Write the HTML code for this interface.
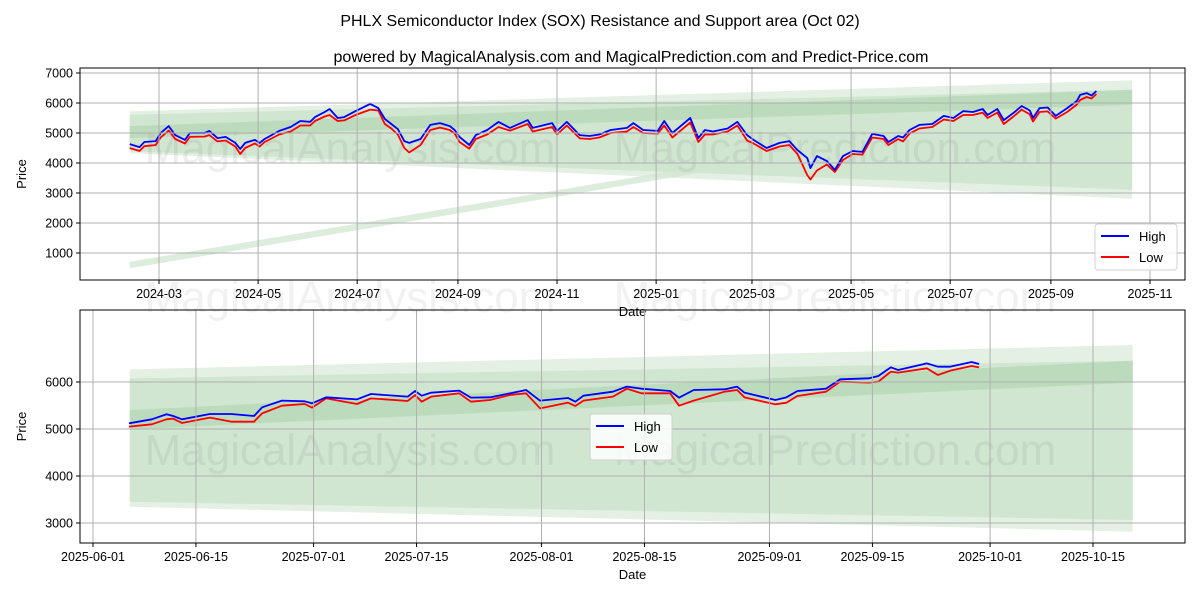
<!DOCTYPE html>
<html><head><meta charset="utf-8"><style>
body{margin:0;background:#fff;}
svg text{font-family:"Liberation Sans","DejaVu Sans",sans-serif;}
</style></head><body>
<svg id="c" width="1200" height="600" viewBox="0 0 1200 600" xmlns="http://www.w3.org/2000/svg">
<rect width="1200" height="600" fill="#fff"/>
<text x="350" y="312" font-size="44" fill="#888" fill-opacity="0.12" text-anchor="middle">MagicalAnalysis.com</text>
<text x="835" y="312" font-size="44" fill="#888" fill-opacity="0.12" text-anchor="middle">MagicalPrediction.com</text>
<text x="600" y="26" text-anchor="middle" font-size="16">PHLX Semiconductor Index (SOX) Resistance and Support area (Oct 02)</text>
<text x="631" y="62" text-anchor="middle" font-size="16">powered by MagicalAnalysis.com and MagicalPrediction.com and Predict-Price.com</text>
<g id="top"></g>
<g id="bot"></g>
</svg>
<script>
// ---- top panel data (days from 2024-03-01) ----
const topDays=[-18,-12,-9,-2,1,6,10,16,19,28,31,36,41,47,50,53,59,62,65,74,81,87,93,96,102,105,110,114,121,130,135,139,143,147,151,154,161,167,173,179,182,185,191,195,202,209,216,227,230,242,245,251,259,265,271,278,288,292,298,307,311,316,327,332,336,341,350,356,362,366,374,382,388,393,399,401,405,411,416,421,427,433,439,446,449,455,458,462,468,476,483,489,495,501,507,510,516,520,526,531,536,538,542,547,552,559,565,567,571,574,577];
const topHigh=[4630,4530,4700,4730,5000,5230,4930,4770,5000,5000,5070,4830,4870,4670,4470,4670,4770,4670,4800,5070,5200,5400,5370,5530,5700,5800,5500,5530,5730,5970,5830,5470,5300,5130,4730,4670,4800,5270,5330,5230,5100,4870,4600,4930,5100,5370,5170,5430,5170,5330,5070,5370,4930,4900,4950,5100,5170,5330,5100,5070,5400,5000,5500,4830,5100,5050,5150,5370,4930,4770,4500,4670,4730,4430,4170,3830,4230,4070,3770,4230,4400,4370,4970,4900,4700,4900,4850,5100,5270,5300,5570,5500,5730,5700,5800,5600,5800,5430,5670,5900,5750,5500,5830,5850,5570,5830,6070,6270,6330,6250,6400];
const topLow=[4500,4400,4560,4600,4850,5080,4800,4650,4870,4880,4930,4720,4750,4550,4300,4500,4650,4550,4700,4950,5050,5250,5250,5400,5550,5600,5400,5420,5600,5780,5750,5300,5150,4950,4500,4350,4600,5100,5180,5100,4980,4700,4480,4800,4950,5200,5080,5300,5050,5200,4950,5250,4820,4800,4850,5000,5050,5200,5000,4980,5250,4850,5350,4700,4950,4950,5050,5250,4750,4650,4400,4550,4600,4300,3600,3450,3750,3950,3700,4100,4300,4280,4850,4800,4600,4800,4720,4980,5150,5200,5450,5400,5600,5600,5680,5500,5680,5300,5550,5780,5620,5380,5700,5720,5480,5700,5950,6100,6200,6150,6300];
const topTickVals=[1000,2000,3000,4000,5000,6000,7000];
const topTickDays=[0,61,122,184,245,306,365,426,487,549,610];
const topTickLabels=["2024-03","2024-05","2024-07","2024-09","2024-11","2025-01","2025-03","2025-05","2025-07","2025-09","2025-11"];
const topBandDays=[-18,599];
const topOuterTop=[5720,6760],topOuterBot=[4330,2810];
const topMidTop=[5610,6440],topMidBot=[4390,3110];
const topDarkTop=[5230,6440],topDarkBot=[4830,5940];
const topSupDays=[-18,431],topSupVal=[600,4670];
// ---- bottom panel data (days from 2025-06-01) ----
const botDays=[4.9,8,10,10.9,12.1,15.9,18.8,21.9,23,25.7,28.8,29.8,31.7,35.9,37.8,42.8,43.8,44.7,46,49.8,51.4,54,56.7,58.9,60.8,64.6,65.6,66.7,70.7,72.6,74.6,78.5,79.7,81.7,85.9,87.6,88.6,92.8,94.3,95.8,99.7,101.6,105.5,106.8,108.5,109.5,113.4,114.9,116.6,119.5,120.5];
const botHigh=[5121,5206,5313,5277,5206,5319,5319,5277,5461,5603,5589,5546,5674,5631,5745,5688,5809,5709,5773,5816,5667,5674,5759,5830,5603,5660,5581,5709,5794,5901,5858,5809,5667,5830,5844,5901,5773,5617,5674,5809,5858,6057,6078,6128,6312,6255,6397,6326,6326,6426,6383];
const botLow=[5050,5100,5206,5220,5128,5241,5156,5156,5333,5496,5532,5454,5652,5532,5652,5596,5723,5581,5688,5759,5581,5617,5723,5759,5440,5560,5489,5603,5688,5858,5759,5759,5496,5603,5794,5830,5674,5525,5560,5702,5794,6007,5986,6007,6220,6199,6291,6149,6241,6340,6312];
const botTickVals=[3000,4000,5000,6000];
const botTickDays=[0,14,30,44,61,75,92,106,122,136];
const botTickLabels=["2025-06-01","2025-06-15","2025-07-01","2025-07-15","2025-08-01","2025-08-15","2025-09-01","2025-09-15","2025-10-01","2025-10-15"];
const botBandDays=[5,141.4];
const botOuterTop=[6268,6787],botOuterBot=[3347,2815];
const botMidTop=[6078,6453],botMidBot=[3453,3064];
const botDarkTop=[5404,6453],botDarkBot=[4993,5986];

const NS="http://www.w3.org/2000/svg";
function mk(parent,tag,attrs,txt){const e=document.createElementNS(NS,tag);for(const k in attrs)e.setAttribute(k,attrs[k]);if(txt!==undefined)e.textContent=txt;parent.appendChild(e);return e;}

function panel(g,cfg){
  const {L,R,T,B,xs,ys}=cfg;
  const clipId=cfg.id+"clip";
  const defs=mk(g,"defs",{});const cp=mk(defs,"clipPath",{id:clipId});mk(cp,"rect",{x:L,y:T,width:R-L,height:B-T});
  const plot=mk(g,"g",{"clip-path":"url(#"+clipId+")"});
  function band(days,top,bot,fill,name){
    const pts=[[xs(days[0]),ys(top[0])],[xs(days[1]),ys(top[1])],[xs(days[1]),ys(bot[1])],[xs(days[0]),ys(bot[0])]];
    const p=mk(plot,"polygon",{points:pts.map(q=>q.join(",")).join(" "),fill:fill});
    
    
  }
  band(cfg.bd,cfg.oT,cfg.oB,"#e4f0e4","outer-band");
  band(cfg.bd,cfg.mT,cfg.mB,"#d0e6d0","middle-band");
  band(cfg.bd,cfg.dT,cfg.dB,"#bcdbbc","resistance-band");
  if(cfg.sd){
    const w=110;
    const pts=[[xs(cfg.sd[0]),ys(cfg.sv[0]+w)],[xs(cfg.sd[1]),ys(cfg.sv[1]+w)],[xs(cfg.sd[1]),ys(cfg.sv[1]-w)],[xs(cfg.sd[0]),ys(cfg.sv[0]-w)]];
    const p=mk(plot,"polygon",{points:pts.map(q=>q.join(",")).join(" "),fill:"#cfe5cf","fill-opacity":"0.7"});
    
    
  }
  cfg.wm.forEach(y=>{
    const t1=mk(plot,"text",{x:cfg.wmx[0],y:y,"font-size":44,fill:"#888","fill-opacity":"0.14","text-anchor":"middle"},"MagicalAnalysis.com");
    
    const t2=mk(plot,"text",{x:cfg.wmx[1],y:y,"font-size":44,fill:"#888","fill-opacity":"0.14","text-anchor":"middle"},"MagicalPrediction.com");
    
  });
  cfg.td.forEach(d=>{mk(g,"line",{x1:xs(d),x2:xs(d),y1:T,y2:B,stroke:"#b0b0b0","stroke-width":1});});
  cfg.tv.forEach(v=>{mk(g,"line",{x1:L,x2:R,y1:ys(v),y2:ys(v),stroke:"#b0b0b0","stroke-width":1});});
  function line(days,vals,col,name){
    const p=mk(plot,"polyline",{points:days.map((d,i)=>xs(d)+","+ys(vals[i])).join(" "),fill:"none",stroke:col,"stroke-width":1.8,"stroke-linejoin":"round"});
    
    
  }
  line(cfg.days,cfg.lo,"#ff0000","low-series");
  line(cfg.days,cfg.hi,"#0000ff","high-series");
  mk(g,"rect",{x:L,y:T,width:R-L,height:B-T,fill:"none",stroke:"#000","stroke-width":1});
  cfg.td.forEach((d,i)=>{const x=xs(d);mk(g,"line",{x1:x,x2:x,y1:B,y2:B+4,stroke:"#000"});
    const t=mk(g,"text",{x:x,y:B+18,"font-size":12.5,"text-anchor":"middle"},cfg.tl[i]);
    });
  cfg.tv.forEach(v=>{const y=ys(v);mk(g,"line",{x1:L-4,x2:L,y1:y,y2:y,stroke:"#000"});
    const t=mk(g,"text",{x:L-7,y:y+4.5,"font-size":12.5,"text-anchor":"end"},String(v));
    });
  const xl=mk(g,"text",{x:(L+R)/2,y:B+36,"font-size":13,"text-anchor":"middle"},"Date");
  
  const yl=mk(g,"text",{x:0,y:0,"font-size":13,"text-anchor":"middle",transform:"translate(26,"+((T+B)/2)+") rotate(-90)"},"Price");
  
  const [lx,ly]=cfg.leg;
  const lg=mk(g,"g",{});
  
  mk(lg,"rect",{x:lx,y:ly,width:82,height:46,rx:3,fill:"#fff","fill-opacity":"0.85",stroke:"#d0d0d0"});
  mk(lg,"line",{x1:lx+6,x2:lx+34,y1:ly+12,y2:ly+12,stroke:"#0000ff","stroke-width":2});
  mk(lg,"line",{x1:lx+6,x2:lx+34,y1:ly+33,y2:ly+33,stroke:"#ff0000","stroke-width":2});
  const h=mk(lg,"text",{x:lx+44,y:ly+17,"font-size":13},"High");
  const l=mk(lg,"text",{x:lx+44,y:ly+38,"font-size":13},"Low");
}

panel(document.getElementById("top"),{id:"t",L:80,R:1185,T:68,B:280,
  xs:d=>159+d*1.6246, ys:v=>253-(v-1000)*0.03,
  bd:topBandDays,oT:topOuterTop,oB:topOuterBot,mT:topMidTop,mB:topMidBot,dT:topDarkTop,dB:topDarkBot,
  sd:topSupDays,sv:topSupVal,wm:[163],wmx:[350,835],
  days:topDays,hi:topHigh,lo:topLow,td:topTickDays,tl:topTickLabels,tv:topTickVals,leg:[1095,224]});
panel(document.getElementById("bot"),{id:"b",L:80,R:1185,T:310,B:543,
  xs:d=>93+d*7.353, ys:v=>429-(v-5000)*0.047,
  bd:botBandDays,oT:botOuterTop,oB:botOuterBot,mT:botMidTop,mB:botMidBot,dT:botDarkTop,dB:botDarkBot,
  wm:[465],wmx:[350,835],
  days:botDays,hi:botHigh,lo:botLow,td:botTickDays,tl:botTickLabels,tv:botTickVals,leg:[590,414]});
</script>
</body></html>
